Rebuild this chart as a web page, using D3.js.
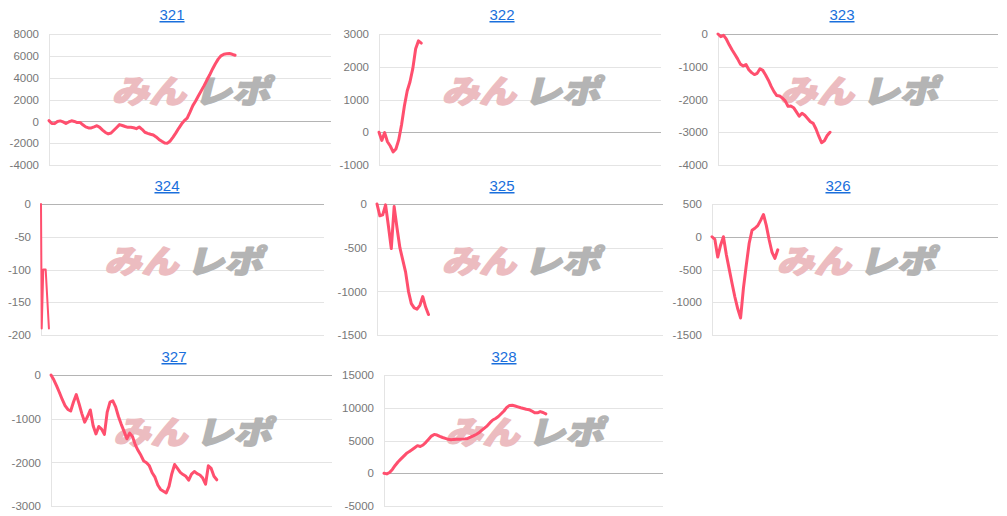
<!DOCTYPE html>
<html><head><meta charset="utf-8">
<script src="https://cdn.jsdelivr.net/npm/d3@7"></script>
<style>
html,body{margin:0;padding:0;background:#fff;}
svg{display:block;}
</style></head>
<body>
<svg id="c" width="1007" height="516"></svg>
<script>
// ---- data ----
const titles = ["321","322","323","324","325","326","327","328"];
const X_MAX = 100;
const s321 = [60,-200,-210,-20,40,-50,-200,-60,50,-10,-110,-100,-320,-510,-600,-600,-510,-400,-550,-800,-1020,-1150,-1070,-820,-560,-300,-380,-470,-550,-550,-590,-670,-520,-730,-1000,-1100,-1180,-1250,-1430,-1660,-1830,-1990,-2000,-1800,-1450,-1060,-640,-250,70,300,850,1440,1860,2350,2800,3270,3780,4260,4800,5280,5700,6000,6150,6190,6210,6140,6050];
const s322 = [0,-250,-10,-290,-420,-600,-510,-230,230,800,1260,1540,1950,2550,2790,2720];
const s323 = [0,-80,-40,-160,-330,-480,-620,-760,-920,-975,-930,-1090,-1180,-1240,-1200,-1060,-1110,-1250,-1410,-1600,-1760,-1880,-1890,-1960,-2040,-2210,-2200,-2250,-2380,-2510,-2420,-2480,-2580,-2680,-2730,-2900,-3120,-3320,-3260,-3100,-3000];
const s324 = [0,-190,-100,-100,-190];
const s324x = [0,0.25,0.8,1.65,2.8];
const s325 = [0,-135,-125,-10,-255,-510,-30,-275,-500,-640,-780,-1000,-1140,-1190,-1205,-1160,-1060,-1180,-1265];
const s326 = [0,-40,-310,-130,0,-270,-490,-710,-920,-1100,-1240,-780,-430,-100,100,130,170,250,340,170,-50,-240,-330,-200];
const s327 = [0,-110,-250,-400,-560,-700,-790,-825,-620,-450,-660,-890,-1080,-950,-800,-1160,-1350,-1180,-1240,-1360,-850,-620,-590,-730,-950,-1130,-1290,-1460,-1330,-1410,-1600,-1730,-1840,-1970,-2010,-2080,-2240,-2340,-2520,-2620,-2660,-2700,-2550,-2260,-2050,-2140,-2230,-2280,-2320,-2410,-2270,-2210,-2260,-2290,-2360,-2500,-2080,-2140,-2320,-2400];
const s328 = [0,-100,120,580,1190,1720,2150,2580,3000,3300,3580,3890,4210,4090,4310,4720,5200,5670,5930,5830,5620,5460,5320,5180,5110,5170,5190,5190,5210,5240,5320,5500,5700,5920,6180,6550,6900,7240,7720,8130,8360,8660,9080,9510,10060,10360,10370,10270,10130,10000,9890,9780,9700,9500,9240,9220,9410,9280,9060];
const series = [s321,s322,s323,s324,s325,s326,s327,s328];
const seriesX = [null,null,null,s324x,null,null,null,null];
const yDomains = [[-4000,8000],[-1000,3000],[-4000,0],[-200,0],[-1500,0],[-1500,500],[-3000,0],[-5000,15000]];
const yTicks = [
  [-4000,-2000,0,2000,4000,6000,8000],
  [-1000,0,1000,2000,3000],
  [-4000,-3000,-2000,-1000,0],
  [-200,-150,-100,-50,0],
  [-1500,-1000,-500,0],
  [-1500,-1000,-500,0,500],
  [-3000,-2000,-1000,0],
  [-5000,0,5000,10000,15000]
];

// ---- layout (positions only) ----
const layout = [
  {l:49, r:331, t:34, b:165, tx:172, ty:20},
  {l:379,r:661, t:34, b:165, tx:502, ty:20},
  {l:718,r:998, t:34, b:165, tx:842, ty:20},
  {l:41, r:324, t:204,b:335, tx:167, ty:191},
  {l:377,r:663, t:204,b:335, tx:502, ty:191},
  {l:712,r:998, t:204,b:335, tx:838, ty:191},
  {l:51, r:332, t:375,b:506, tx:174, ty:362},
  {l:384,r:663, t:375,b:506, tx:504, ty:362}
];
const LINE = "#ff4f6e";
const svg = d3.select("#c");

titles.forEach((name,i)=>{
  const L = layout[i];
  const g = svg.append("g");
  const x = d3.scaleLinear().domain([0,X_MAX]).range([L.l,L.r]);
  const y = d3.scaleLinear().domain(yDomains[i]).range([L.b,L.t]);

  // title
  g.append("text").attr("x",L.tx).attr("y",L.ty).attr("text-anchor","middle")
    .attr("font-family","Arial, 'Liberation Sans', sans-serif").attr("font-size",15)
    .attr("fill","#1a6fdc").attr("text-decoration","underline").text(name);

  // grid via axis
  const ax = d3.axisLeft(y).tickValues(yTicks[i]).tickSize(-(L.r-L.l)).tickPadding(10).tickFormat(d=>String(d));
  const ag = g.append("g").attr("transform",`translate(${L.l},0)`).call(ax);
  ag.select(".domain").remove();
  ag.selectAll(".tick line").attr("stroke",d=>d===0?"#b4b4b4":"#e4e4e4").attr("shape-rendering","crispEdges");
  ag.selectAll(".tick text").attr("font-family","Arial, 'Liberation Sans', sans-serif").attr("font-size",11.5).attr("fill","#777");
  // left axis line
  g.append("line").attr("x1",L.l).attr("x2",L.l).attr("y1",L.t).attr("y2",L.b)
    .attr("stroke","#e4e4e4").attr("shape-rendering","crispEdges");

  // watermark
  const cx = (L.l+L.r)/2, cy = (L.t+L.b)/2 - 9;
  const wm = g.append("g").attr("transform",`translate(${cx},${cy+12}) skewX(-14)`)
    .attr("font-family","'Noto Sans CJK JP', sans-serif").attr("font-weight",900).attr("font-size",32)
    .attr("stroke-width",1.6).attr("stroke-linejoin","round");
  wm.append("text").attr("x",-78).attr("y",0).attr("textLength",74).attr("lengthAdjust","spacingAndGlyphs")
    .attr("fill","#ecbcc0").attr("stroke","#ecbcc0").text("みん");
  wm.append("text").attr("x",4).attr("y",0).attr("textLength",76).attr("lengthAdjust","spacingAndGlyphs")
    .attr("fill","#b4b4b4").attr("stroke","#b4b4b4").text("レポ");

  // line
  const vals = series[i];
  const xs = seriesX[i];
  const pts = vals.map((v,k)=>[xs?xs[k]:k, v]);
  g.append("path").datum(pts)
    .attr("d", d3.line().x(d=>x(d[0])).y(d=>y(d[1])))
    .attr("fill","none").attr("stroke",LINE).attr("stroke-width", i===3?2:3)
    .attr("stroke-linejoin","round").attr("stroke-linecap","round");
});
</script>
</body></html>
